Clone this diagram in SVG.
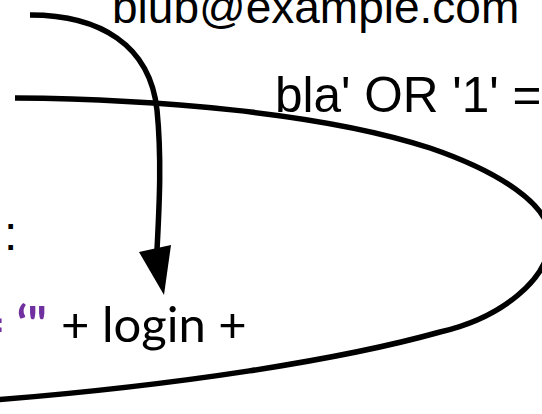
<svg xmlns="http://www.w3.org/2000/svg" width="542" height="414" viewBox="0 0 542 414">
<style>
.lbl{font-family:"Liberation Sans",Arial,sans-serif;font-size:48px;fill:#000}
.code{font-family:Lato,"Noto Sans",sans-serif;font-size:49px;fill:#000}
.str{font-family:Lato,"Noto Sans",sans-serif;font-size:49px;font-weight:bold;fill:#7030A0}
.edge{fill:none;stroke:#000;stroke-width:5.5}
</style>
<rect width="542" height="414" fill="#fff"/>
<g id="email"><text class="lbl" x="112" y="23" style="font-size:46px">blub@example.com</text></g>
<g id="injection"><text class="lbl" x="275" y="112" style="font-size:49.5px">bla' OR '1' =</text></g>
<g id="colon"><text class="lbl" x="4" y="250">:</text></g>
<g id="query">
<text class="str" x="47" y="342" text-anchor="end">= ‘"</text>
<text class="code" x="61" y="342">+ login +</text>
</g>
<g id="connectors">
<path class="edge" d="M30,15 C100,15 150,45 157,110 C162,160 159,210 157,250"/>
<polygon points="139,252 171,245 164,295" fill="#000"/>
<path class="edge" d="M15,98 C150,99 320,112 430,148 C500,172 550,205 550,238 C550,280 500,318 440,332 C340,360 180,385 -5,400"/>
</g>
</svg>
